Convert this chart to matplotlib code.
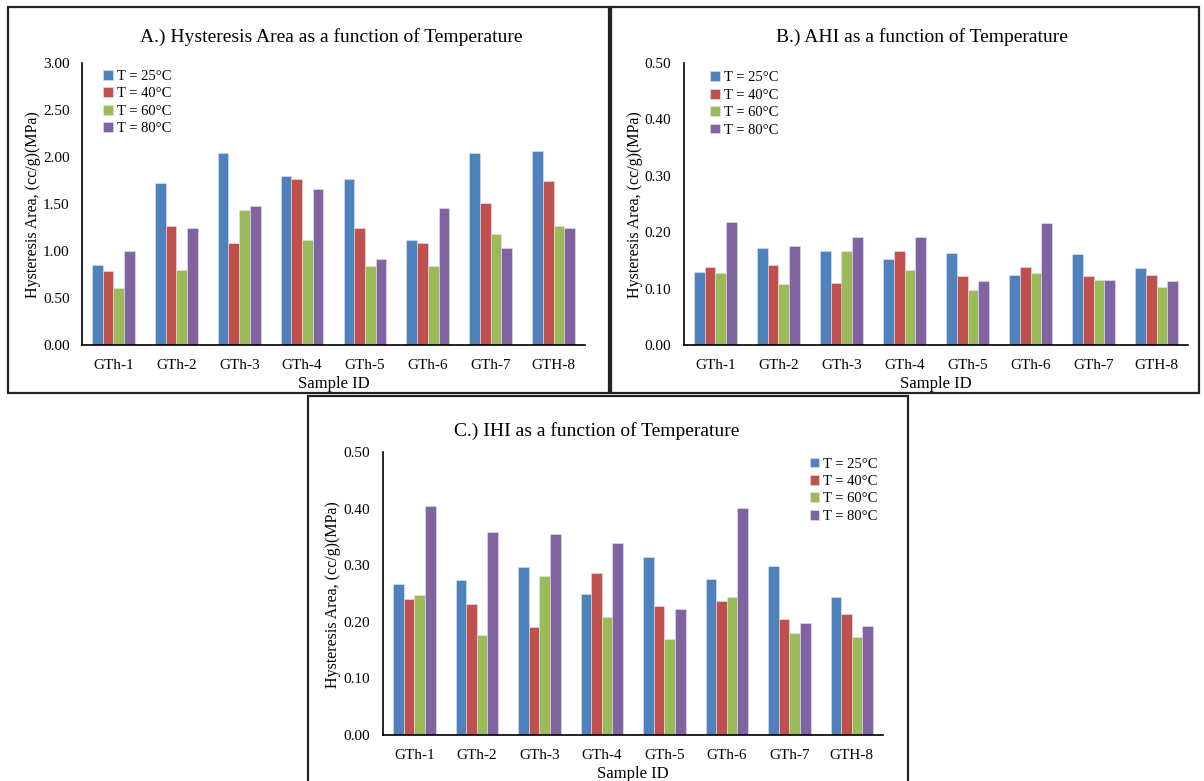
import matplotlib
matplotlib.use("Agg")
import matplotlib.pyplot as plt
from matplotlib.patches import Rectangle
import numpy as np

plt.rcParams['font.family'] = ['Liberation Serif', 'DejaVu Serif']

samples = ["GTh-1", "GTh-2", "GTh-3", "GTh-4", "GTh-5", "GTh-6", "GTh-7", "GTH-8"]
temps = ["T = 25°C", "T = 40°C", "T = 60°C", "T = 80°C"]
colors = ["#4F81BD", "#C0504D", "#9BBB59", "#8064A2"]

# A.) hysteresis area
area_25 = [0.85, 1.72, 2.04, 1.80, 1.77, 1.12, 2.04, 2.06]
area_40 = [0.79, 1.27, 1.09, 1.77, 1.24, 1.09, 1.51, 1.74]
area_60 = [0.61, 0.80, 1.44, 1.12, 0.84, 0.84, 1.18, 1.27]
area_80 = [1.00, 1.24, 1.48, 1.66, 0.91, 1.46, 1.03, 1.25]

# B.) AHI
ahi_25 = [0.129, 0.172, 0.167, 0.152, 0.164, 0.124, 0.162, 0.136]
ahi_40 = [0.139, 0.141, 0.110, 0.167, 0.123, 0.138, 0.122, 0.125]
ahi_60 = [0.128, 0.109, 0.166, 0.133, 0.097, 0.128, 0.115, 0.102]
ahi_80 = [0.218, 0.176, 0.191, 0.191, 0.114, 0.216, 0.116, 0.113]

# C.) IHI
ihi_25 = [0.266, 0.273, 0.296, 0.250, 0.315, 0.276, 0.299, 0.244]
ihi_40 = [0.240, 0.231, 0.190, 0.287, 0.228, 0.236, 0.205, 0.214]
ihi_60 = [0.247, 0.177, 0.281, 0.208, 0.170, 0.244, 0.181, 0.173]
ihi_80 = [0.405, 0.358, 0.356, 0.340, 0.223, 0.401, 0.198, 0.193]

W, H = 1204, 781
fig = plt.figure(figsize=(W / 100, H / 100), dpi=100)


def fx(px):
    return px / W


def fy(py):
    return 1 - py / H


def box(x0, y0, x1, y1):
    fig.patches.append(Rectangle((fx(x0), fy(y1)), fx(x1) - fx(x0), fy(y0) - fy(y1),
                                 transform=fig.transFigure, fill=False,
                                 edgecolor="#222222", linewidth=1.6))


def panel(rect_px, series, ymax, step, title, title_xy, ylab_xy, leg_loc, leg_anchor):
    x0, ytop, x1, ybot = rect_px
    ax = fig.add_axes([fx(x0), fy(ybot), fx(x1) - fx(x0), fy(ytop) - fy(ybot)])
    x = np.arange(len(samples))
    bw = 0.17
    for i, (vals, c, lab) in enumerate(zip(series, colors, temps)):
        ax.bar(x + (i - 1.5) * bw, vals, bw, color=c, label=lab,
               edgecolor="#dfe6f0", linewidth=0.4)
    ax.set_xlim(-0.5, len(samples) - 0.5)
    ax.set_ylim(0, ymax)
    ticks = np.arange(0, ymax + step / 2, step)
    ax.set_yticks(ticks)
    ax.set_yticklabels([f"{v:.2f}" for v in ticks])
    ax.set_xticks(x)
    ax.set_xticklabels(samples)
    ax.tick_params(axis="both", length=0, labelsize=11)
    ax.tick_params(axis="y", pad=9)
    ax.tick_params(axis="x", pad=10)
    for s in ["top", "right"]:
        ax.spines[s].set_visible(False)
    for s in ["left", "bottom"]:
        ax.spines[s].set_color("black")
        ax.spines[s].set_linewidth(1.2)
    ax.set_xlabel("Sample ID", fontsize=12, labelpad=3)
    fig.text(fx(title_xy[0]), fy(title_xy[1]), title, fontsize=14,
             ha="center", va="center")
    fig.text(fx(ylab_xy[0]), fy(ylab_xy[1]), "Hysteresis Area, (cc/g)(MPa)",
             fontsize=11.5, rotation=90, ha="center", va="center")
    ax.legend(loc=leg_loc, bbox_to_anchor=leg_anchor, frameon=False, fontsize=10.5,
              handlelength=0.65, handleheight=0.65, handletextpad=0.3,
              labelspacing=0.3, borderpad=0, borderaxespad=0)
    return ax


box(8, 7, 609, 393)
box(611, 7, 1199, 393)
box(308, 396, 908, 790)

panel((82, 63, 585, 345), [area_25, area_40, area_60, area_80], 3.0, 0.5,
      "A.) Hysteresis Area as a function of Temperature", (331, 37), (33, 205),
      "upper left", (0.042, 0.975))
panel((684, 63, 1188, 345), [ahi_25, ahi_40, ahi_60, ahi_80], 0.5, 0.1,
      "B.) AHI as a function of Temperature", (922, 37), (635, 205),
      "upper left", (0.052, 0.97))
panel((383, 452, 883, 735), [ihi_25, ihi_40, ihi_60, ihi_80], 0.5, 0.1,
      "C.) IHI as a function of Temperature", (597, 431), (333, 595),
      "upper right", (0.99, 0.98))

fig.savefig("out.png", dpi=100)
